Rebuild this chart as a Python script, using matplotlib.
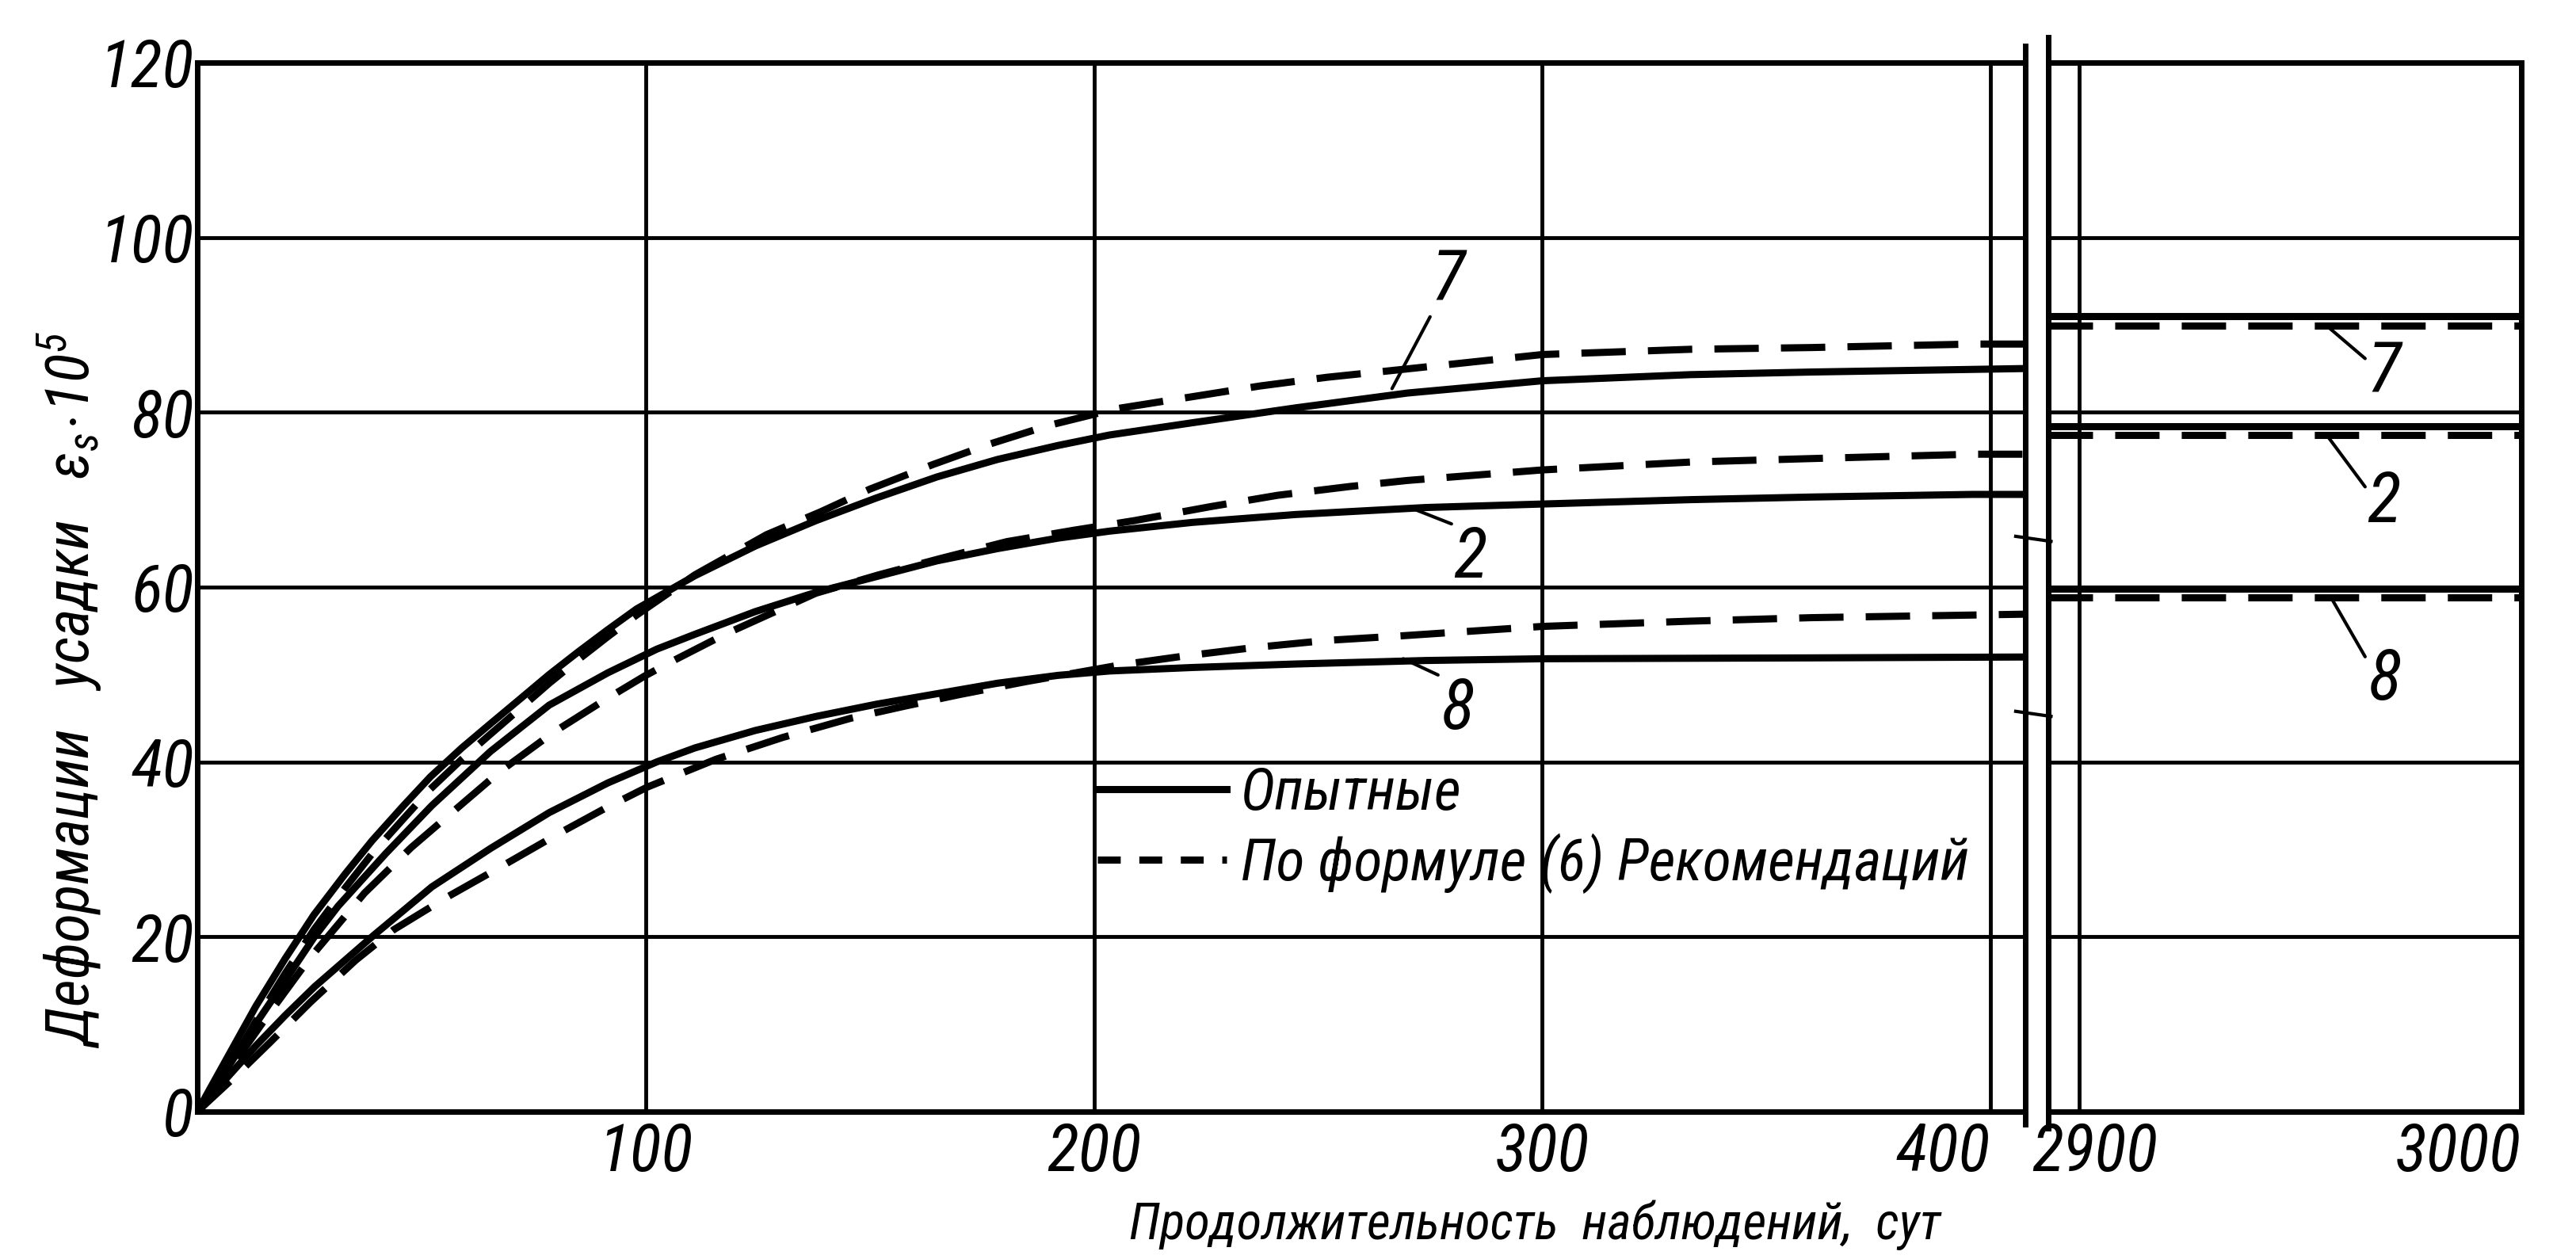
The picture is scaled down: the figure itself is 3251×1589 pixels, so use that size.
"""
Shrinkage deformation curves with a broken time axis
====================================================
Experimental (solid) vs formula (dashed) shrinkage for specimens 7, 2, 8.
Left panel: 0..~400 days, right panel: 2900..3000 days.
Output: out.png
"""

import matplotlib
matplotlib.use("Agg")
import matplotlib.pyplot as plt
from matplotlib import font_manager
from matplotlib.lines import Line2D
from matplotlib.transforms import ScaledTranslation

# -- Fonts: prefer a narrow face (the drawing uses condensed lettering) --
_fonts = font_manager.fontManager.ttflist
_names = {f.name for f in _fonts}
FONT, STRETCH, NARROW = "DejaVu Sans", "normal", False
for cand in ["Liberation Sans Narrow", "Roboto Condensed", "Open Sans Condensed",
             "Noto Sans Condensed", "DejaVu Sans Condensed"]:
    if cand in _names:
        FONT, NARROW = cand, True
        break
else:
    for f in _fonts:
        if f.name in ("DejaVu Sans", "Noto Sans", "Roboto", "Open Sans") and f.stretch == "condensed":
            FONT, STRETCH, NARROW = f.name, "condensed", True
            break

SCALE = 1.3 if NARROW else 1.0
plt.rcParams["font.family"] = [FONT, "DejaVu Sans"]
plt.rcParams["font.style"] = "italic"
plt.rcParams["font.stretch"] = STRETCH
plt.rcParams["mathtext.fontset"] = "custom"
plt.rcParams["mathtext.rm"] = FONT
plt.rcParams["mathtext.it"] = f"{FONT}:italic"

# -- Data --
# curve 7
DAYS_7_SOLID = [0, 6.5, 13, 19.6, 26, 33, 39, 46, 52, 59, 65, 72, 78.5, 85, 91.5, 98, 111,
                124.5, 138, 151.5, 165, 178.5, 192, 203.5, 222, 245, 270, 300, 333, 360,
                396, 407.7]
EPS_7_SOLID = [0, 6, 12, 17.5, 22.5, 27.2, 31, 35, 38.3, 41.6, 44.2, 47.2, 50, 52.6, 55.1,
               57.5, 61.3, 64.7, 67.6, 70.2, 72.6, 74.6, 76.2, 77.4, 78.8, 80.5, 82.2, 83.6,
               84.3, 84.6, 84.9, 85]
DAYS_7_DASH = [0, 6.5, 13, 19.6, 26, 33, 39, 46, 52, 59, 65, 72, 78.5, 85, 91.5, 98, 111,
               127, 139, 150, 164, 177, 190, 205, 221, 237, 252, 267, 300, 333, 360, 396,
               407.7]
EPS_7_DASH = [0, 4.5, 10.3, 15.8, 20.8, 25.6, 29.5, 33.5, 36.9, 40.3, 43, 46.1, 49, 51.7,
              54.3, 56.8, 61.4, 66, 68.6, 71.2, 74, 76.4, 78.5, 80.4, 81.7, 83, 84, 84.8,
              86.6, 87.2, 87.4, 87.8, 87.8]

# curve 2
DAYS_2_SOLID = [0, 6.5, 13, 19.6, 26, 31.4, 42, 52.3, 65.4, 78.5, 91.6, 102.5, 111, 124.5,
                138, 151.5, 165, 178.5, 192, 203.5, 222, 245, 274, 300, 333, 360, 396, 407.7]
EPS_2_SOLID = [0, 4.8, 10, 15, 19.9, 23.5, 29.5, 35, 41.2, 46.5, 50.2, 52.9, 54.6, 57.2,
               59.4, 61.2, 63, 64.4, 65.6, 66.4, 67.4, 68.3, 69.1, 69.5, 70, 70.3, 70.6, 70.6]
DAYS_2_DASH = [0, 8, 16, 25, 37.3, 47.7, 57.7, 67.5, 79.5, 90.6, 99.7, 105.5, 117.7, 138,
               152, 166, 180.6, 195.5, 209, 226, 241, 257, 270, 300, 333, 360, 396, 407.7]
EPS_2_DASH = [0, 5.4, 11.2, 17.5, 25, 30.2, 34.6, 38.9, 43.4, 47, 49.8, 51.4, 54.6, 59.3,
              61.4, 63.3, 65.2, 66.5, 67.6, 69.2, 70.5, 71.5, 72.2, 73.4, 74.3, 74.7, 75.2,
              75.2]

# curve 8
DAYS_8_SOLID = [0, 6.5, 13, 19.6, 26.2, 39.2, 52.3, 65.4, 78.5, 91.6, 102.5, 111, 124.5,
                138, 151.5, 165, 178.5, 192, 203.5, 222, 245, 274, 300, 360, 407.7]
EPS_8_SOLID = [0, 3.8, 7.5, 11, 14.3, 20.1, 25.7, 30.1, 34.2, 37.6, 40, 41.6, 43.6, 45.2,
               46.6, 47.8, 49, 49.9, 50.4, 50.8, 51.2, 51.6, 51.8, 51.9, 52]
DAYS_8_DASH = [0, 8, 16.4, 25.2, 35.3, 43.8, 55.6, 67.7, 80.6, 91, 100.3, 115.7, 130.6,
               145.8, 158, 170, 185, 206, 220, 236, 252, 268, 300, 333, 360, 396, 407.7]
EPS_8_DASH = [0, 3.8, 8, 12.5, 17.3, 20.8, 24.5, 28, 31.8, 34.7, 37.1, 40.3, 42.8, 45,
              46.4, 47.7, 49.2, 51.1, 52.1, 53.1, 53.9, 54.4, 55.5, 56.1, 56.5, 56.8, 56.9]

# late observations (right panel), flat plateaus
DAYS_LATE = [2893, 3000]
EPS_7_SOLID_LATE = [91.0, 91.0]
EPS_7_DASH_LATE = [89.9, 89.9]
EPS_2_SOLID_LATE = [78.4, 78.4]
EPS_2_DASH_LATE = [77.4, 77.4]
EPS_8_SOLID_LATE = [59.8, 59.8]
EPS_8_DASH_LATE = [58.8, 58.8]

LEFT_XLIM = (0, 407.7)
RIGHT_XLIM = (2893, 3000)
LEFT_XTICKS = [100, 200, 300, 400]
RIGHT_XTICKS = [2900, 3000]
YTICKS = [0, 20, 40, 60, 80, 100, 120]

LEGEND_LABELS = ["Опытные", "По формуле (6) Рекомендаций"]
YLABEL = "Деформации   усадки   $\\varepsilon_s\\!\\cdot\\!10^5$"
XLABEL = "Продолжительность  наблюдений,  сут"

# -- Style --
INK = "black"
CURVE_LW = 6.5
GRID_LW = 3.5
SPINE_LW = 5
DASHES = (6.2, 3.1)
TICK_FS = 46 * SCALE
LEGEND_FS = 41 * SCALE
TAG_FS = 49 * SCALE
YLABEL_FS = 42 * SCALE
XLABEL_FS = 36 * SCALE


def style_axes(ax, xlim, xticks):
    ax.set_xlim(*xlim)
    ax.set_ylim(0, 120)
    ax.set_xticks(xticks)
    ax.set_yticks(YTICKS)
    ax.set_axisbelow(True)
    ax.grid(True, color=INK, linewidth=GRID_LW)
    for sp in ax.spines.values():
        sp.set_linewidth(SPINE_LW)
        sp.set_color(INK)
    ax.tick_params(length=0, labelsize=TICK_FS, pad=9)
    ax.tick_params(axis="y", pad=3)


def draw_pair(ax, xs, ys, xd, yd):
    ax.plot(xs, ys, color=INK, linewidth=CURVE_LW, solid_capstyle="butt",
            solid_joinstyle="round", zorder=3)
    ax.plot(xd, yd, color=INK, linewidth=CURVE_LW, dashes=DASHES, zorder=3)


def tag(ax, text, xy, xytext, relpos):
    ax.annotate(
        text, xy=xy, xytext=xytext, ha="center", va="center", fontsize=TAG_FS,
        arrowprops=dict(arrowstyle="-", color=INK, lw=3, shrinkA=0, shrinkB=0, relpos=relpos),
        zorder=4,
    )


def main():
    fig = plt.figure(figsize=(32.51, 15.89), dpi=100)
    ax_l = fig.add_axes([0.0766, 0.1171, 0.7095, 0.8332])
    ax_r = fig.add_axes([0.7951, 0.1171, 0.1836, 0.8332])

    style_axes(ax_l, LEFT_XLIM, LEFT_XTICKS)
    style_axes(ax_r, RIGHT_XLIM, RIGHT_XTICKS)
    ax_r.tick_params(labelleft=False)

    # Curves, first 400 days
    draw_pair(ax_l, DAYS_7_SOLID, EPS_7_SOLID, DAYS_7_DASH, EPS_7_DASH)
    draw_pair(ax_l, DAYS_2_SOLID, EPS_2_SOLID, DAYS_2_DASH, EPS_2_DASH)
    draw_pair(ax_l, DAYS_8_SOLID, EPS_8_SOLID, DAYS_8_DASH, EPS_8_DASH)

    # Plateaus after ~8 years
    draw_pair(ax_r, DAYS_LATE, EPS_7_SOLID_LATE, DAYS_LATE, EPS_7_DASH_LATE)
    draw_pair(ax_r, DAYS_LATE, EPS_2_SOLID_LATE, DAYS_LATE, EPS_2_DASH_LATE)
    draw_pair(ax_r, DAYS_LATE, EPS_8_SOLID_LATE, DAYS_LATE, EPS_8_DASH_LATE)

    # Curve numbers with leader lines
    tag(ax_l, "7", (266.5, 82.7), (279, 95), (0.0, 0.0))
    tag(ax_l, "2", (271, 69), (284, 63.3), (0.0, 1.0))
    tag(ax_l, "8", (269, 51.8), (281, 46), (0.0, 1.0))
    tag(ax_r, "7", (2956, EPS_7_DASH_LATE[0]), (2969, 84.4), (0.0, 0.7))
    tag(ax_r, "2", (2956, EPS_2_DASH_LATE[0]), (2969, 69.6), (0.0, 0.7))
    tag(ax_r, "8", (2957, EPS_8_DASH_LATE[0]), (2969, 49.3), (0.0, 0.8))

    # x tick label placement near the break
    for lab in ax_l.get_xticklabels():
        if lab.get_text() == "400":
            lab.set_horizontalalignment("right")
    for lab in ax_r.get_xticklabels():
        if lab.get_text() == "3000":
            lab.set_horizontalalignment("right")
        else:
            lab.set_transform(lab.get_transform() + ScaledTranslation(0.2, 0, fig.dpi_scale_trans))

    # Axis break: border lines run a bit past the frame, small strokes across the gap
    ax_l.axvline(LEFT_XLIM[1], ymin=-0.012, ymax=1.016, color=INK, lw=SPINE_LW, clip_on=False)
    ax_r.axvline(RIGHT_XLIM[0], ymin=-0.016, ymax=1.024, color=INK, lw=SPINE_LW, clip_on=False)
    for fy in (0.574, 0.435):
        fig.add_artist(Line2D([0.7825, 0.7962], [fy, fy - 0.004], transform=fig.transFigure,
                              color=INK, lw=3))

    # Legend
    handles = [
        Line2D([], [], color=INK, lw=CURVE_LW),
        Line2D([], [], color=INK, lw=CURVE_LW, dashes=(3.2, 2.6)),
    ]
    ax_l.legend(
        handles, LEGEND_LABELS, loc="upper left", bbox_to_anchor=(0.4925, 0.33),
        frameon=False, fontsize=LEGEND_FS, handlelength=2.2, handletextpad=0.25,
        labelspacing=0.2, borderpad=0, borderaxespad=0,
    )

    fig.text(0.027, 0.452, YLABEL, rotation=90, ha="center", va="center", fontsize=YLABEL_FS)
    fig.text(0.596, 0.027, XLABEL, ha="center", va="center", fontsize=XLABEL_FS)

    fig.savefig("out.png", dpi=100)
    plt.close(fig)


if __name__ == "__main__":
    main()
